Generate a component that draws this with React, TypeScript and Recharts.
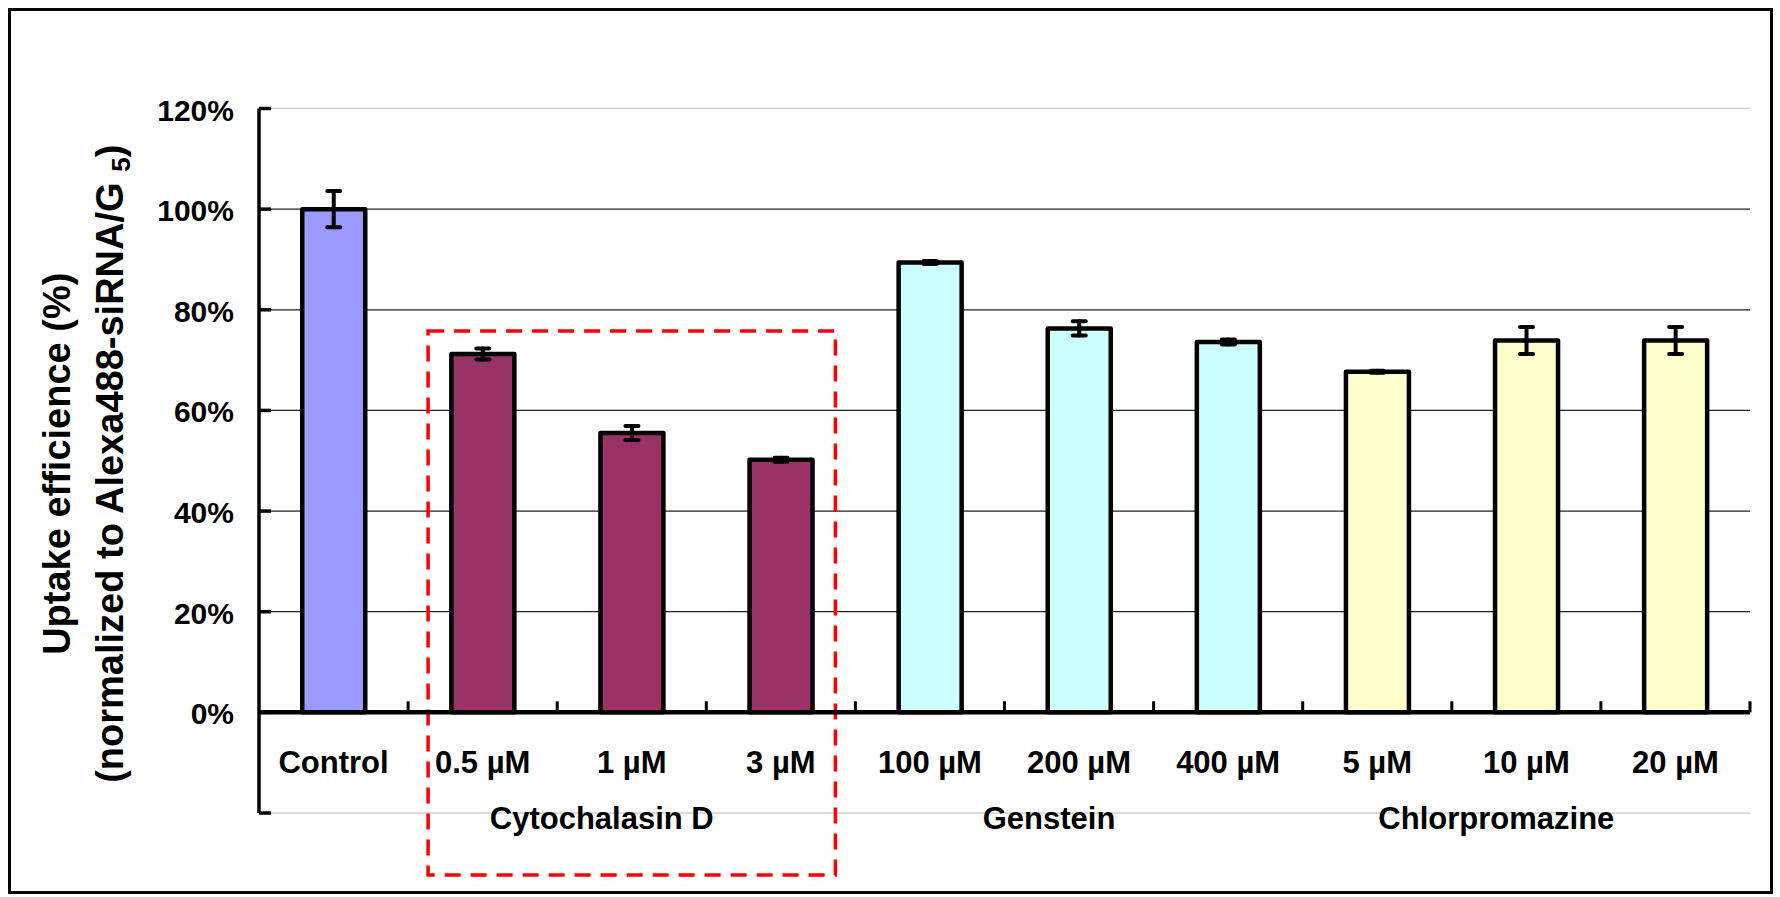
import React from "react";
import {
  Bar,
  BarChart,
  CartesianGrid,
  Cell,
  ErrorBar,
  Label,
  ReferenceArea,
  ReferenceLine,
  XAxis,
  YAxis,
} from "recharts";

const categories = ["Control", "0.5 µM", "1 µM", "3 µM", "100 µM", "200 µM", "400 µM", "5 µM", "10 µM", "20 µM"];
const uptake = [100, 71.2, 55.5, 50.2, 89.4, 76.3, 73.6, 67.7, 73.9, 73.9];
const uptakeErr = [3.6, 1.1, 1.4, 0.4, 0.3, 1.4, 0.5, 0.2, 2.7, 2.7];
const groupOf = [0, 1, 1, 1, 2, 2, 2, 3, 3, 3];
const groupNames = ["", "Cytochalasin D", "Genstein", "Chlorpromazine"];
const groupColors = ["#9999FF", "#993366", "#CCFFFF", "#FFFFCC"];
const yTicks = [-20, 0, 20, 40, 60, 80, 100, 120];
// dashed box around the Cytochalasin D group: [first, last, top %, bottom %]
const highlightBox = ["0.5 µM", "3 µM", 75.8, -32.3] as const;

const FONT = "'Liberation Sans', Arial, Helvetica, sans-serif";

const data = categories.map((name, i) => ({
  name,
  value: uptake[i],
  err: uptakeErr[i],
  group: groupOf[i],
}));

// middle bar of each group carries the group name underneath
const groupMiddle = groupNames.map((_, g) => {
  const idx = groupOf.map((v, i) => (v === g ? i : -1)).filter((i) => i >= 0);
  return idx[Math.floor(idx.length / 2)];
});

function XTick(props: any) {
  const { x, y, payload, index } = props;
  const g = groupOf[index];
  const showGroup = g > 0 && groupMiddle[g] === index;
  return (
    <g>
      <text x={x} y={y - 40} textAnchor="middle" fontSize={31} fontWeight="bold" fill="#000" fontFamily={FONT}>
        {payload.value}
      </text>
      {showGroup && (
        <text x={x - 30} y={y + 16} textAnchor="middle" fontSize={31} fontWeight="bold" fill="#000" fontFamily={FONT}>
          {groupNames[g]}
        </text>
      )}
    </g>
  );
}

function YTick(props: any) {
  const { x, y, payload } = props;
  return (
    <g>
      <line x1={x} x2={x + 12} y1={y} y2={y} stroke="#000" strokeWidth={3.5} />
      {payload.value >= 0 && (
        <text x={x - 25} y={y + 12} textAnchor="end" fontSize={30} fontWeight="bold" fill="#000" fontFamily={FONT}>
          {payload.value}%
        </text>
      )}
    </g>
  );
}

function YTitle(props: any) {
  const vb = props.viewBox;
  const cy = vb.y + vb.height / 2 + 3;
  const x1 = vb.x + 59;
  const x2 = vb.x + 112;
  return (
    <g fontFamily={FONT} fontWeight="bold" fontSize={38} fill="#000">
      <text x={x1} y={cy} textAnchor="middle" transform={`rotate(-90, ${x1}, ${cy})`}>
        Uptake efficience (%)
      </text>
      <text x={x2} y={cy} textAnchor="middle" transform={`rotate(-90, ${x2}, ${cy})`}>
        (normalized to Alexa488-siRNA/G{" "}
        <tspan fontSize={26} dy={7}>5</tspan>
        <tspan dy={-7}>)</tspan>
      </text>
    </g>
  );
}

function gridLine(props: any) {
  const { x1, x2, y1, y2, index } = props;
  const edge = index === 0 || index === yTicks.length - 1;
  return (
    <line
      key={`grid-${index}`}
      x1={x1}
      x2={x2}
      y1={y1}
      y2={y2}
      stroke={edge ? "#d0d0d0" : "#222"}
      strokeWidth={edge ? 1.5 : 1.3}
    />
  );
}

function DashedBox(props: any) {
  const { x, y, width, height } = props;
  const inset = 20;
  return (
    <rect
      x={x + inset}
      y={y}
      width={width - inset * 2}
      height={height}
      fill="none"
      stroke="#FF0000"
      strokeWidth={3.5}
      strokeDasharray="16 10"
    />
  );
}

export default function App() {
  return (
    <div
      style={{
        position: "absolute",
        left: 8,
        top: 8,
        width: 1765,
        height: 886,
        border: "3px solid #000",
        boxSizing: "border-box",
        background: "#fff",
        fontFamily: FONT,
      }}
    >
      <BarChart
        width={1759}
        height={880}
        data={data}
        margin={{ top: 97.5, right: 20, left: 0, bottom: 18 }}
        barCategoryGap="29%"
      >
        <CartesianGrid vertical={false} horizontal={gridLine} />
        <YAxis
          type="number"
          domain={[-20, 120]}
          ticks={yTicks}
          interval={0}
          width={248}
          tickSize={0}
          tickMargin={0}
          tickLine={false}
          axisLine={{ stroke: "#000", strokeWidth: 3.5 }}
          tick={YTick}
          allowDataOverflow
        >
          <Label content={YTitle} position="insideLeft" />
        </YAxis>
        <XAxis
          dataKey="name"
          type="category"
          height={60}
          interval={0}
          tickSize={0}
          tickMargin={0}
          tickLine={false}
          axisLine={false}
          tick={XTick}
        />
        <Bar dataKey="value" stroke="#000" strokeWidth={4.5} strokeLinejoin="round" isAnimationActive={false}>
          {data.map((d, i) => (
            <Cell key={i} fill={groupColors[d.group]} stroke="#000" strokeWidth={4.5} />
          ))}
          <ErrorBar dataKey="err" direction="y" width={6.5} stroke="#000" strokeWidth={4} strokeLinecap="round" />
        </Bar>
        <ReferenceLine y={0} stroke="#000" strokeWidth={4.5} />
        {categories.map((c) => (
          <ReferenceLine
            key={`tick-${c}`}
            segment={[
              { x: c, y: 0 },
              { x: c, y: 2.2 },
            ]}
            position="end"
            stroke="#000"
            strokeWidth={3}
          />
        ))}
        <ReferenceArea
          x1={highlightBox[0]}
          x2={highlightBox[1]}
          y1={highlightBox[3]}
          y2={highlightBox[2]}
          ifOverflow="visible"
          shape={DashedBox}
        />
      </BarChart>
    </div>
  );
}
